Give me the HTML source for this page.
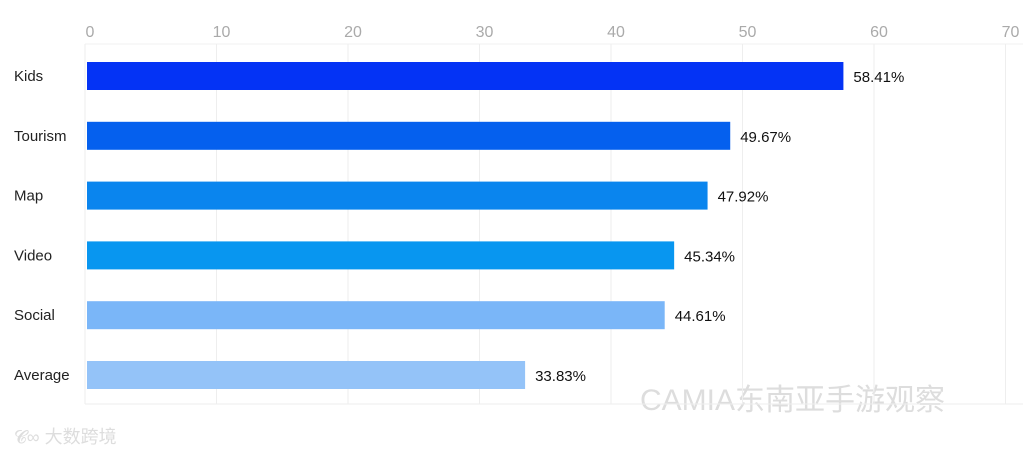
<!DOCTYPE html>
<html><head><meta charset="utf-8"><style>
body{margin:0;background:#fff;width:1023px;height:452px;overflow:hidden;font-family:"Liberation Sans","Noto Sans CJK SC",sans-serif}
</style></head><body>
<svg width="1023" height="452" id="chart">
<text x="640" y="410" font-size="30" fill="#ddd" font-family="Liberation Sans, Noto Sans CJK SC, sans-serif">CAMIA东南亚手游观察</text>
<text x="14" y="443" font-size="18" fill="#ddd" font-family="Liberation Sans, Noto Sans CJK SC, sans-serif">𝓒∞ 大数跨境</text>
</svg>
<script>
const categories=["Kids","Tourism","Map","Video","Social","Average"];
const values=[58.41,49.67,47.92,45.34,44.61,33.83];
const colors=["#0433f5","#0560ee","#0a85ee","#0896f0","#7ab6f8","#94c3f8"];
const ticks=[0,10,20,30,40,50,60,70];
const svg=document.getElementById('chart');
const NS='http://www.w3.org/2000/svg';
function xGrid(v){return 85+v*13.15;}
function xBar(v){return 87+v*12.95;}
function yRow(i){return 62+i*59.8;}
function mk(t,a){const e=document.createElementNS(NS,t);for(const k in a)e.setAttribute(k,a[k]);svg.insertBefore(e,svg.firstChild);return e;}
function add(t,a){const e=document.createElementNS(NS,t);for(const k in a)e.setAttribute(k,a[k]);svg.appendChild(e);return e;}
let l=add('line',{x1:85,x2:1023,y1:44,y2:44,stroke:'#f0f0f0'});


l=add('line',{x1:85,x2:1023,y1:404,y2:404,stroke:'#eee'});


ticks.forEach(t=>{
 const g=add('line',{x1:xGrid(t),x2:xGrid(t),y1:44,y2:404,stroke:'#eee'});
 
 
 const tx=add('text',{x:xGrid(t)+5,y:37,'font-size':16,fill:'#aaa','text-anchor':'middle'});
 tx.textContent=t;
 
 
});
categories.forEach((c,i)=>{
 const y=yRow(i);
 const lab=add('text',{x:14,y:y+19,'font-size':15,fill:'#222'});
 lab.textContent=c;
 
 
 const r=add('rect',{x:xBar(0),y:y,width:xBar(values[i])-xBar(0),height:28,fill:colors[i]});
 
 
 const v=add('text',{x:xBar(values[i])+10,y:y+20,'font-size':15,fill:'#111'});
 v.textContent=values[i].toFixed(2)+'%';
 
 
});
</script>
</body></html>
